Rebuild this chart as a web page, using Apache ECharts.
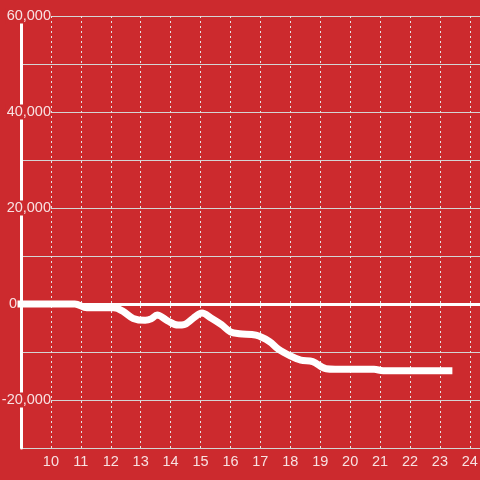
<!DOCTYPE html>
<html>
<head>
<meta charset="utf-8">
<script src="https://cdn.jsdelivr.net/npm/echarts@6/dist/echarts.min.js"></script>
<style>html,body{margin:0;padding:0;background:#cc2a2e;}#c{width:480px;height:480px;}</style>
</head>
<body>
<div id="c"></div>
<script>
// hour of day
var hours = [9, 10.8, 11.2, 12.1, 12.4, 12.75, 13.15, 13.35, 13.55, 13.9, 14.25, 14.45, 14.75, 15.05, 15.35, 15.7, 16.0, 16.3, 16.85, 17.3, 17.6, 18.0, 18.35, 18.75, 19.2, 19.5, 20.8, 21.1, 23.3];
var values = [0, 0, -800, -800, -1500, -3000, -3400, -3100, -2300, -3500, -4400, -4300, -3000, -1900, -2900, -4300, -5800, -6200, -6500, -7800, -9400, -10800, -11700, -12000, -13500, -13600, -13600, -13900, -13900];
var yLabelValues = [60000, 40000, 20000, 0, -20000];

var BG = '#cc2a2e';
var LBL = 'rgba(255,255,255,0.86)';
var data = hours.map(function (h, i) { return [h, values[i]]; });

var chart = echarts.init(document.getElementById('c'), null, {renderer: 'canvas'});
chart.setOption({
  backgroundColor: BG,
  animation: false,
  grid: {left: 21, right: 0, top: 16, bottom: 32, containLabel: false, outerBoundsMode: 'none'},
  xAxis: {
    type: 'value', min: 9, max: 24.34, interval: 1,
    axisLine: {show: false, onZero: false},
    axisTick: {show: false},
    splitLine: {show: true, lineStyle: {color: '#e4e4e4', type: [2, 3], width: 1}},
    axisLabel: {
      color: LBL, fontSize: 14.5, fontFamily: 'Liberation Sans, Arial, sans-serif', margin: 6,
      showMaxLabel: false, showMinLabel: false,
      formatter: function (v) { return (Math.abs(v - Math.round(v)) < 1e-6 && v > 9) ? String(Math.round(v)) : ''; }
    }
  },
  yAxis: {
    type: 'value', min: -30000, max: 60000, interval: 10000,
    axisLine: {show: true, onZero: false, lineStyle: {color: '#ffffff', width: 3}},
    axisTick: {show: false},
    splitLine: {show: true, lineStyle: {color: '#d4d4d4', width: 1}},
    axisLabel: {
      color: LBL, fontSize: 14.5, fontFamily: 'Liberation Sans, Arial, sans-serif',
      align: 'right', margin: -30,
      formatter: function (v) {
        if (yLabelValues.indexOf(v) < 0) return '';
        if (v === 0) return '{z|0}';
        return '{a|' + v.toLocaleString('en-US') + '}';
      },
      rich: {
        a: {color: LBL, fontSize: 14.5, fontFamily: 'Liberation Sans, Arial, sans-serif', backgroundColor: BG, padding: [0, 0, 0, 1]},
        z: {color: LBL, fontSize: 14.5, fontFamily: 'Liberation Sans, Arial, sans-serif', padding: [0, 34, 0, 0]}
      }
    }
  },
  series: [{
    type: 'line',
    data: data,
    smooth: 0.35,
    showSymbol: false,
    clip: false,
    lineStyle: {color: '#ffffff', width: 7, cap: 'square'},
    markLine: {
      silent: true, symbol: 'none', label: {show: false},
      lineStyle: {color: '#ffffff', width: 3, type: 'solid'},
      data: [{yAxis: 0}]
    },
    z: 3
  }]
});
</script>
</body>
</html>
